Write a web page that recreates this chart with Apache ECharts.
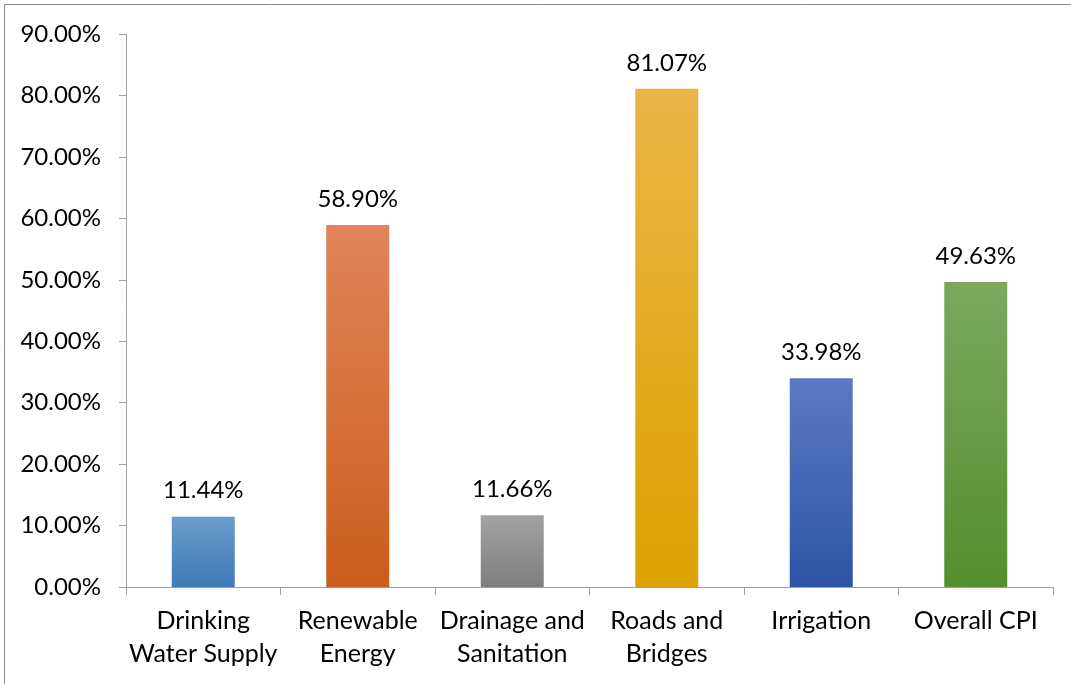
<!DOCTYPE html>
<html>
<head>
<meta charset="utf-8">
<script src="https://cdn.jsdelivr.net/npm/echarts@6/dist/echarts.min.js"></script>
<style>
  html, body { margin: 0; padding: 0; background: #ffffff; }
  #chart { width: 1071px; height: 684px; }
</style>
</head>
<body>
<div id="chart"></div>
<script>
// Category names (line breaks as shown under the axis)
const categories = [
  'Drinking\nWater Supply',
  'Renewable\nEnergy',
  'Drainage and\nSanitation',
  'Roads and\nBridges',
  'Irrigation',
  'Overall CPI'
];

// Percentage values per category
const values = [11.44, 58.90, 11.66, 81.07, 33.98, 49.63];

// Bar fill gradients (top colour, bottom colour)
const topColors    = ['#6B9BCC', '#E0845A', '#A2A2A2', '#EBB547', '#5C7AC1', '#7CA85E'];
const bottomColors = ['#3D7AB7', '#CB5D1C', '#7E7E7E', '#DDA100', '#2C54A5', '#538F2E'];

const FONT = 'Lato';

const chart = echarts.init(document.getElementById('chart'), null, { renderer: 'canvas' });

const seriesData = values.map((v, i) => ({
  value: v,
  itemStyle: {
    color: new echarts.graphic.LinearGradient(0, 0, 0, 1, [
      { offset: 0, color: topColors[i] },
      { offset: 1, color: bottomColors[i] }
    ])
  }
}));

chart.setOption({
  animation: false,
  backgroundColor: '#ffffff',
  graphic: [{
    type: 'rect',
    shape: { x: 4.5, y: 4.5, width: 1100, height: 700 },
    style: { fill: 'none', stroke: '#8C8C8C', lineWidth: 1 },
    silent: true
  }],
  grid: { left: 126, right: 18, top: 34, bottom: 97, containLabel: false },
  xAxis: {
    type: 'category',
    data: categories,
    axisLine: { lineStyle: { color: '#A0A0A0', width: 1 } },
    axisTick: { show: true, length: 8, alignWithLabel: false, lineStyle: { color: '#A0A0A0' } },
    axisLabel: {
      color: '#000000',
      fontFamily: FONT,
      fontSize: 25,
      lineHeight: 33,
      margin: 17,
      interval: 0
    }
  },
  yAxis: {
    type: 'value',
    min: 0,
    max: 90,
    interval: 10,
    splitLine: { show: false },
    axisLine: { show: true, lineStyle: { color: '#A0A0A0', width: 1 } },
    axisTick: { show: true, length: 7, lineStyle: { color: '#A0A0A0' } },
    axisLabel: {
      color: '#000000',
      fontFamily: FONT,
      fontSize: 24,
      margin: 25,
      formatter: v => v.toFixed(2) + '%'
    }
  },
  series: [{
    type: 'bar',
    data: seriesData,
    barWidth: 63,
    label: {
      show: true,
      position: 'top',
      distance: 14,
      color: '#000000',
      fontFamily: FONT,
      fontSize: 24,
      formatter: p => p.value.toFixed(2) + '%'
    }
  }]
});
</script>
</body>
</html>
